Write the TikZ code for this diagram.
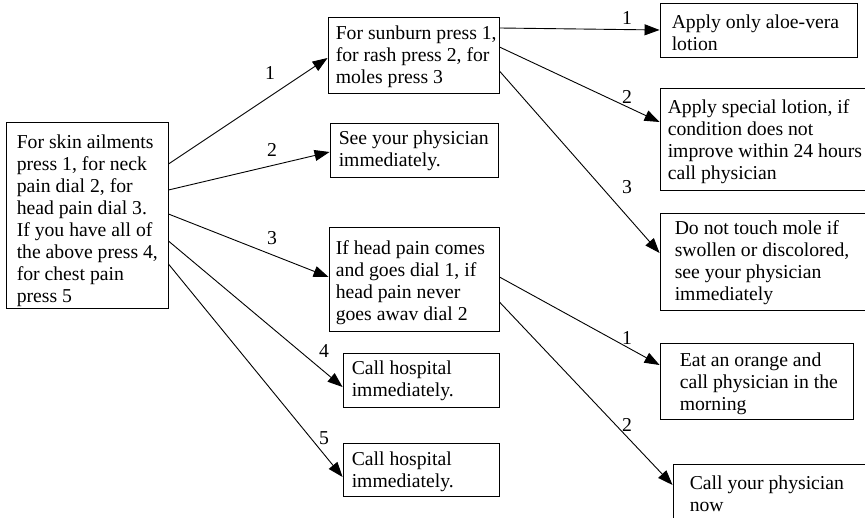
\documentclass[tikz,border=0pt]{standalone}
\usepackage{fontspec}
\setmainfont{Liberation Serif}
\usetikzlibrary{arrows.meta,calc}
\begin{document}
\begin{tikzpicture}[x=1pt,y=-1pt,
  box/.style={draw=black, line width=0.9pt, rectangle, inner sep=0pt},
  txt/.style={font=\fontsize{19.7}{22}\selectfont, align=left, inner sep=0pt, anchor=west},
  lbl/.style={font=\fontsize{19.7}{22}\selectfont, inner sep=0pt},
  edge/.style={-{Triangle[length=15pt,width=11pt]}, line width=0.9pt}]
\useasboundingbox (0,0) rectangle (865,518);
\clip (0,0) rectangle (865,518);
% boxes
\node[box, minimum width=162pt, minimum height=186pt] (A) at (87,215) {};
\node[box, minimum width=171pt, minimum height=76pt] (B) at (413.5,55) {};
\node[box, minimum width=168pt, minimum height=54pt] (C) at (414,150) {};
\node[box, minimum width=170pt, minimum height=104pt] (D) at (414,279) {};
\node[box, minimum width=156pt, minimum height=54pt] (E) at (421,380) {};
\node[box, minimum width=156pt, minimum height=53pt] (F) at (421,469.5) {};
\node[box, minimum width=197pt, minimum height=54pt] (G) at (758.5,30) {};
\node[box, minimum width=212pt, minimum height=102pt] (H) at (766,139) {};
\node[box, minimum width=208pt, minimum height=97pt] (I) at (764,261.5) {};
\node[box, minimum width=193pt, minimum height=76pt] (J) at (756.5,381) {};
\node[box, minimum width=197pt, minimum height=56pt] (K) at (771.5,492) {};
% texts
\node[txt] (At) at ($(A.west)+(11,5.5)$) {For skin ailments\\press 1, for neck\\pain dial 2, for\\head pain dial 3.\\If you have all of\\the above press 4,\\for chest pain\\press 5};
\node[txt] (Bt) at ($(B.west)+(8,1.5)$) {For sunburn press 1,\\for rash press 2, for\\moles press 3};
\node[txt] (Ct) at ($(C.west)+(9,1)$) {See your physician\\immediately.};
\node[txt] (Dt) at ($(D.west)+(7,3.5)$) {If head pain comes\\and goes dial 1, if\\head pain never\\goes awav dial 2};
\node[txt] (Et) at ($(E.west)+(9,0.5)$) {Call hospital\\immediately.};
\node[txt] (Ft) at ($(F.west)+(9,2.5)$) {Call hospital\\immediately.};
\node[txt] (Gt) at ($(G.west)+(12,3)$) {Apply only aloe-vera\\lotion};
\node[txt] (Ht) at ($(H.west)+(8,3)$) {Apply special lotion, if\\condition does not\\improve within 24 hours\\call physician};
\node[txt] (It) at ($(I.west)+(15,1.5)$) {Do not touch mole if\\swollen or discolored,\\see your physician\\immediately};
\node[txt] (Jt) at ($(J.west)+(20,2.5)$) {Eat an orange and\\call physician in the\\morning};
\node[txt] (Kt) at ($(K.west)+(17,1.5)$) {Call your physician\\now};
% edges from A
\draw[edge] ($(A.east)+(0,-51)$) -- ($(B.west)+(0,3)$);
\draw[edge] ($(A.east)+(0,-25)$) -- ($(C.west)+(0,2)$);
\draw[edge] ($(A.east)+(0,-1)$) -- ($(D.west)+(0,-2)$);
\draw[edge] ($(A.east)+(0,26)$) -- ($(E.west)+(0,7)$);
\draw[edge] ($(A.east)+(0,49)$) -- ($(F.west)+(0,7.5)$);
% edges from B
\draw[edge] ($(B.east)+(0,-27)$) -- (G.west);
\draw[edge] ($(B.east)+(0,-8)$) -- ($(H.west)+(0,-17)$);
\draw[edge] ($(B.east)+(0,16)$) -- ($(I.west)+(0,-8.5)$);
% edges from D
\draw[edge] ($(D.east)+(0,-2)$) -- ($(J.west)+(0,-16)$);
\draw[edge] ($(D.east)+(0,23)$) -- ($(K.west)+(0,-7)$);
% labels
\node[lbl] (l1) at (270,73) {1};
\node[lbl] (l2) at (272,150) {2};
\node[lbl] (l3) at (272,238) {3};
\node[lbl] (l4) at (324,351) {4};
\node[lbl] (l5) at (324,438) {5};
\node[lbl] (m1) at (627,18) {1};
\node[lbl] (m2) at (627,97) {2};
\node[lbl] (m3) at (627,187) {3};
\node[lbl] (n1) at (627,338) {1};
\node[lbl] (n2) at (627,425) {2};
\end{tikzpicture}
\end{document}
